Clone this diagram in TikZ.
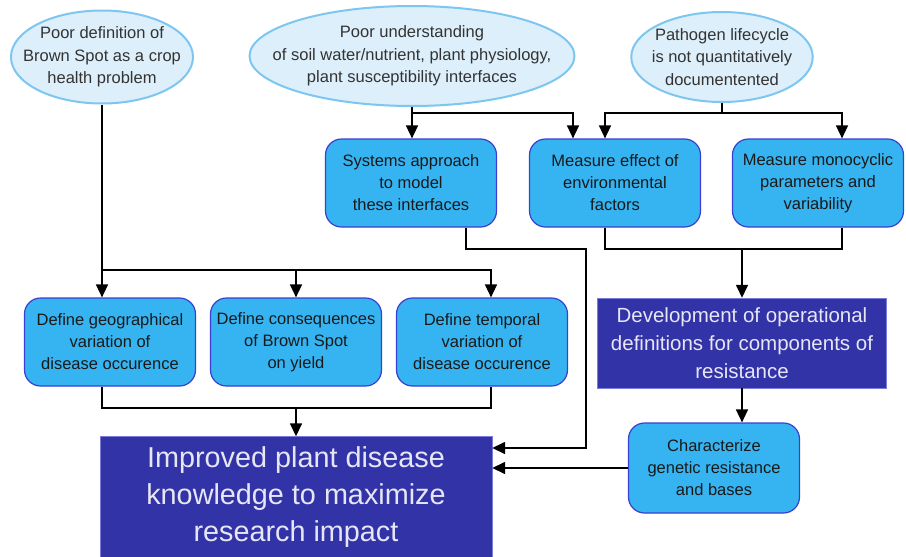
\documentclass[tikz,border=0pt]{standalone}
\usepackage{fontspec}
\setmainfont{Liberation Sans}
\usetikzlibrary{positioning,shapes.geometric,arrows.meta}
\definecolor{cloudfill}{HTML}{DDEFFA}
\definecolor{clouddraw}{HTML}{7DC6F0}
\definecolor{boxfill}{HTML}{36B4F2}
\definecolor{boxdraw}{HTML}{3A3FD0}
\definecolor{darkbox}{HTML}{3333A8}
\definecolor{darktext}{HTML}{E6E6F5}
\begin{document}
\begin{tikzpicture}[x=1pt, y=-1pt,
 cloud/.style = {ellipse, draw=clouddraw, line width=2pt, fill=cloudfill, inner ysep=0pt,
   align=center, text=black!80, font=\fontsize{16.5}{22.5}\selectfont},
 task/.style = {rectangle, rounded corners=16pt, draw=boxdraw, line width=1.2pt, fill=boxfill,
   minimum width=171pt, minimum height=88pt, align=center, text=black!90,
   font=\fontsize{16.5}{22}\selectfont},
 goal/.style = {rectangle, draw=darkbox!70!blue!60!white, thin, fill=darkbox, align=center, text=darktext},
 arr/.style = {-{Triangle[length=13pt,width=12pt]}, line width=1.5pt},
 link/.style = {line width=1.5pt},
]
 \useasboundingbox (0,0) rectangle (906,557);
 \node[cloud, inner xsep=-14.5pt, minimum width=181pt, minimum height=93pt] (poordef) at (102,57)
   {Poor definition of\\Brown Spot as a crop\\health problem};
 \node[cloud, inner xsep=-24.5pt, minimum width=325pt, minimum height=100pt] (poorknow) at (412,56)
   {Poor understanding\\of soil water/nutrient, plant physiology,\\plant susceptibility interfaces};
 \node[cloud, inner xsep=-6pt, minimum width=181pt, minimum height=90pt] (lifecycle) at (722,57)
   {Pathogen lifecycle\\is not quantitatively\\documentented};

 \node[task] (systems) at (411,183) {Systems approach\\to model\\these interfaces};
 \node[task] (envir) at (615,183) {Measure effect of\\environmental\\factors};
 \node[task] (mono) at (818,183) {Measure monocyclic\\parameters and\\variability};

 \node[task] (geo) at (110,342) {Define geographical\\variation of\\disease occurence};
 \node[task] (conseq) at (296,342) {Define consequences\\of Brown Spot\\on yield};
 \node[task] (temporal) at (482,342) {Define temporal\\variation of\\disease occurence};

 \node[goal, minimum width=289pt, minimum height=90pt, font=\fontsize{20.5}{28}\selectfont]
   (operdef) at (742,343) {Development of operational\\definitions for components of\\resistance};
 \node[task, minimum height=90pt] (genetic) at (714,468) {Characterize\\genetic resistance\\and bases};
 \node[goal, minimum width=392pt, minimum height=121pt, font=\fontsize{28.8}{37}\selectfont]
   (improved) at (296,497) {Improved plant disease\\knowledge to maximize\\research impact};

 \coordinate (toprow) at (0,113);
 \coordinate (leftbus) at (0,270);
 \coordinate (lowbus) at (0,408);
 \coordinate (rightbus) at (0,249);
 \coordinate (sysbend) at (586,249);
 \coordinate (sysin) at (0,448);

 \draw[arr] (poordef.south) -- (poordef.south |- geo.north);
 \draw[arr] (poordef.south |- leftbus) -| (conseq.north);
 \draw[arr] (poordef.south |- leftbus) -| ([xshift=9pt]temporal.north);
 \draw[link] ([xshift=-8pt]geo.south) |- ([xshift=9pt]temporal.south |- lowbus) -- ([xshift=9pt]temporal.south);
 \draw[arr] (improved.north |- lowbus) -- (improved.north);

 \draw[arr] (poorknow.south) -- (poorknow.south |- systems.north);
 \draw[arr] (poorknow.south |- toprow) -| ([xshift=-42pt]envir.north);
 \draw[arr] (lifecycle.south) |- ([xshift=-10pt]envir.north |- toprow) -- ([xshift=-10pt]envir.north);
 \draw[arr] (lifecycle.south |- toprow) -| ([xshift=24pt]mono.north);

 \draw[link] ([xshift=-10pt]envir.south) |- ([xshift=24pt]mono.south |- rightbus) -- ([xshift=24pt]mono.south);
 \draw[arr] (operdef.north |- rightbus) -- (operdef.north);
 \draw[arr] (operdef.south) -- (operdef.south |- genetic.north);
 \draw[arr] (genetic.west) -- (genetic.west -| improved.east);
 \draw[arr] ([xshift=55pt]systems.south) |- (sysbend) |- (improved.east |- sysin);
\end{tikzpicture}
\end{document}
